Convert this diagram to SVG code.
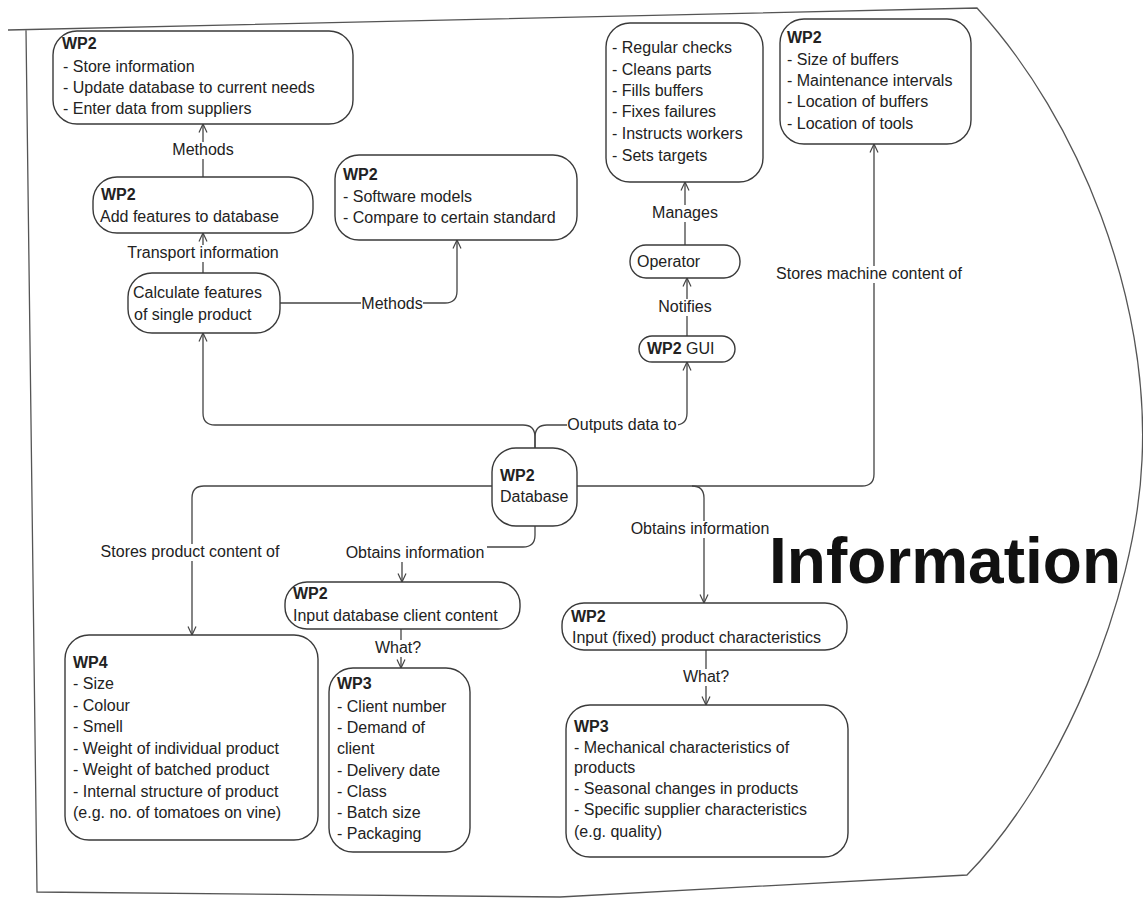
<svg xmlns="http://www.w3.org/2000/svg" width="1143" height="898" viewBox="0 0 1143 898">
<style>
.t{font-family:"Liberation Sans",Arial,sans-serif;font-size:16px;fill:#222}
.b{font-weight:bold}
.m{text-anchor:middle}
.box{fill:#fff;stroke:#3a3a3a;stroke-width:1.4}
.con{fill:none;stroke:#444;stroke-width:1.3}
.bg{fill:#fff}
.outline{fill:none;stroke:#555;stroke-width:1.3}
</style>
<defs>
<marker id="arr" markerUnits="userSpaceOnUse" viewBox="0 0 10 10" refX="9.5" refY="5" markerWidth="10" markerHeight="10" orient="auto">
<path d="M1,1 L9.5,5 L1,9" fill="none" stroke="#444" stroke-width="1.2"/>
</marker>
</defs>
<rect width="1143" height="898" fill="#fff"/>
<path class="outline" d="M8,30 L977,8 C1080,120 1150,300 1142,460 C1136,600 1060,780 967,875 L560,897 L37,892 L26,30"/>
<text class="t b" x="769" y="583" style="font-size:64px;fill:#111">Information</text>

<g id="connectors">
<path class="con" marker-end="url(#arr)" d="M203,177 V124"/>
<path class="con" marker-end="url(#arr)" d="M203,273 V233"/>
<path class="con" marker-end="url(#arr)" d="M280,303 H445 Q457,303 457,291 V240"/>
<path class="con" marker-end="url(#arr)" d="M535,448 V437 Q535,425 523,425 H215 Q203,425 203,413 V333"/>
<path class="con" marker-end="url(#arr)" d="M535,448 V437 Q535,425 547,425 H675 Q687,425 687,413 V362"/>
<path class="con" marker-end="url(#arr)" d="M687,336 V278"/>
<path class="con" marker-end="url(#arr)" d="M685,245 V182"/>
<path class="con" marker-end="url(#arr)" d="M577,486 H862 Q874,486 874,474 V144"/>
<path class="con" marker-end="url(#arr)" d="M492,486 H204 Q192,486 192,498 V635"/>
<path class="con" marker-end="url(#arr)" d="M535,526 V535 Q535,547 523,547 H414 Q402,547 402,559 V582"/>
<path class="con" marker-end="url(#arr)" d="M692,486 Q704,486 704,498 V603"/>
<path class="con" marker-end="url(#arr)" d="M401,629 V668"/>
<path class="con" marker-end="url(#arr)" d="M706,650 V705"/>
<rect class="bg" x="171" y="142" width="64" height="17"/><text class="t m" x="203" y="155">Methods</text>
<rect class="bg" x="125" y="245" width="156" height="17"/><text class="t m" x="203" y="258">Transport information</text>
<rect class="bg" x="361" y="296" width="62" height="17"/><text class="t m" x="392" y="309">Methods</text>
<rect class="bg" x="567" y="417" width="111" height="17"/><text class="t m" x="622" y="430">Outputs data to</text>
<rect class="bg" x="657" y="299" width="57" height="17"/><text class="t m" x="685" y="312">Notifies</text>
<rect class="bg" x="650" y="205" width="70" height="17"/><text class="t m" x="685" y="218">Manages</text>
<rect class="bg" x="774" y="266" width="190" height="17"/><text class="t m" x="869" y="279">Stores machine content of</text>
<rect class="bg" x="99" y="544" width="183" height="17"/><text class="t m" x="190" y="557">Stores product content of</text>
<rect class="bg" x="344" y="545" width="143" height="17"/><text class="t m" x="415" y="558">Obtains information</text>
<rect class="bg" x="629" y="521" width="143" height="17"/><text class="t m" x="700" y="534">Obtains information</text>
<rect class="bg" x="374" y="640" width="48" height="17"/><text class="t m" x="398" y="653">What?</text>
<rect class="bg" x="682" y="669" width="48" height="17"/><text class="t m" x="706" y="682">What?</text>
</g>

<g id="store-info">
<rect class="box" x="53" y="31" width="300" height="93" rx="24"/>
<text class="t b" x="62" y="49">WP2</text>
<text class="t" x="63" y="72">- Store information</text>
<text class="t" x="63" y="93">- Update database to current needs</text>
<text class="t" x="63" y="114">- Enter data from suppliers</text>
</g>

<g id="add-features">
<rect class="box" x="93" y="177" width="220" height="56" rx="24"/>
<text class="t b" x="101" y="200">WP2</text>
<text class="t" x="100" y="222">Add features to database</text>
</g>

<g id="calc-features">
<rect class="box" x="128" y="273" width="152" height="60" rx="24"/>
<text class="t" x="133" y="298">Calculate features</text>
<text class="t" x="134" y="320">of single product</text>
</g>

<g id="software-models">
<rect class="box" x="335" y="155" width="242" height="85" rx="24"/>
<text class="t b" x="343" y="180">WP2</text>
<text class="t" x="343" y="202">- Software models</text>
<text class="t" x="343" y="223">- Compare to certain standard</text>
</g>

<g id="operator-tasks">
<rect class="box" x="606" y="23" width="157" height="159" rx="24"/>
<text class="t" x="612" y="53">- Regular checks</text>
<text class="t" x="612" y="75">- Cleans parts</text>
<text class="t" x="612" y="96">- Fills buffers</text>
<text class="t" x="612" y="117">- Fixes failures</text>
<text class="t" x="612" y="139">- Instructs workers</text>
<text class="t" x="612" y="161">- Sets targets</text>
</g>

<g id="machine-content">
<rect class="box" x="780" y="19" width="191" height="125" rx="24"/>
<text class="t b" x="787" y="43">WP2</text>
<text class="t" x="787" y="65">- Size of buffers</text>
<text class="t" x="787" y="86">- Maintenance intervals</text>
<text class="t" x="787" y="107">- Location of buffers</text>
<text class="t" x="787" y="129">- Location of tools</text>
</g>

<g id="operator">
<rect class="box" x="630" y="245" width="110" height="33" rx="16"/>
<text class="t" x="637" y="267">Operator</text>
</g>

<g id="gui">
<rect class="box" x="639" y="336" width="96" height="26" rx="13"/>
<text class="t" x="647" y="354"><tspan class="b">WP2</tspan> GUI</text>
</g>

<g id="database">
<rect class="box" x="492" y="448" width="85" height="78" rx="24"/>
<text class="t b" x="500" y="481">WP2</text>
<text class="t" x="500" y="502">Database</text>
</g>

<g id="input-client">
<rect class="box" x="285" y="582" width="235" height="47" rx="22"/>
<text class="t b" x="293" y="599">WP2</text>
<text class="t" x="293" y="621">Input database client content</text>
</g>

<g id="input-fixed">
<rect class="box" x="562" y="603" width="285" height="47" rx="22"/>
<text class="t b" x="571" y="622">WP2</text>
<text class="t" x="572" y="643">Input (fixed) product characteristics</text>
</g>

<g id="product-content">
<rect class="box" x="65" y="635" width="253" height="205" rx="24"/>
<text class="t b" x="73" y="668">WP4</text>
<text class="t" x="73" y="689">- Size</text>
<text class="t" x="73" y="711">- Colour</text>
<text class="t" x="73" y="732">- Smell</text>
<text class="t" x="73" y="754">- Weight of individual product</text>
<text class="t" x="73" y="775">- Weight of batched product</text>
<text class="t" x="73" y="797">- Internal structure of product</text>
<text class="t" x="73" y="818">(e.g. no. of tomatoes on vine)</text>
</g>

<g id="client-content">
<rect class="box" x="329" y="668" width="141" height="184" rx="24"/>
<text class="t b" x="337" y="689">WP3</text>
<text class="t" x="337" y="712">- Client number</text>
<text class="t" x="337" y="733">- Demand of</text>
<text class="t" x="337" y="754">client</text>
<text class="t" x="337" y="776">- Delivery date</text>
<text class="t" x="337" y="797">- Class</text>
<text class="t" x="337" y="818">- Batch size</text>
<text class="t" x="337" y="839">- Packaging</text>
</g>

<g id="product-characteristics">
<rect class="box" x="566" y="705" width="282" height="152" rx="24"/>
<text class="t b" x="574" y="732">WP3</text>
<text class="t" x="574" y="753">- Mechanical characteristics of</text>
<text class="t" x="574" y="773">products</text>
<text class="t" x="574" y="794">- Seasonal changes in products</text>
<text class="t" x="574" y="815">- Specific supplier characteristics</text>
<text class="t" x="574" y="837">(e.g. quality)</text>
</g>
</svg>
